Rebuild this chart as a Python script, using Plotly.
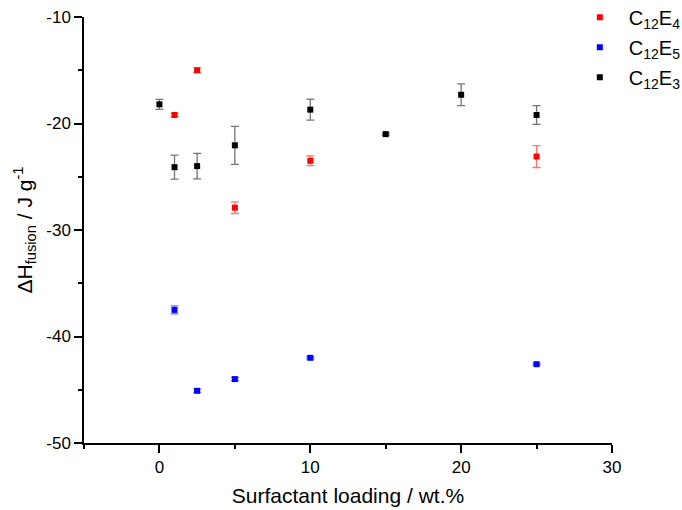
import plotly.graph_objects as go

# C12E4 (red)
x_e4 = [1, 2.5, 5, 10, 25]
y_e4 = [-19.2, -15.0, -27.9, -23.5, -23.1]
err_e4 = [0.15, 0.22, 0.55, 0.45, 1.03]

# C12E5 (blue)
x_e5 = [1, 2.5, 5, 10, 25]
y_e5 = [-37.5, -45.1, -44.0, -42.0, -42.6]
err_e5 = [0.38, 0.15, 0.15, 0.1, 0.1]

# C12E3 (black)
x_e3 = [0, 1, 2.5, 5, 10, 15, 20, 25]
y_e3 = [-18.2, -24.1, -24.0, -22.05, -18.7, -21.0, -17.3, -19.2]
err_e3 = [0.47, 1.13, 1.2, 1.78, 0.99, 0.1, 1.02, 0.88]

# tick labels
x_ticks = [0, 10, 20, 30]
x_ticklabels = ["0", "10", "20", "30"]
y_ticks = [-10, -20, -30, -40, -50]
y_ticklabels = ["-10", "-20", "-30", "-40", "-50"]

FONT = "Liberation Sans, Arial, sans-serif"

def trace(x, y, e, name, color, ecolor, grp):
    return go.Scatter(
        x=x, y=y, mode="markers", name=name, legendgroup=grp,
        marker=dict(symbol="square", size=6, color=color),
        error_y=dict(type="data", array=e, visible=True, color=ecolor,
                     thickness=1.3, width=4),
    )

fig = go.Figure()
fig.add_trace(trace(x_e4, y_e4, err_e4, "C<sub>12</sub>E<sub>4</sub>", "#ff0000", "rgba(255,0,0,0.55)", "e4"))
fig.add_trace(trace(x_e5, y_e5, err_e5, "C<sub>12</sub>E<sub>5</sub>", "#0000ff", "rgba(0,0,255,0.55)", "e5"))
fig.add_trace(trace(x_e3, y_e3, err_e3, "C<sub>12</sub>E<sub>3</sub>", "#000000", "rgba(0,0,0,0.55)", "e3"))

axis_common = dict(
    showline=True, linecolor="black", linewidth=1.5,
    ticks="outside", ticklen=8, tickwidth=1.5, tickcolor="black",
    showgrid=False, zeroline=False,
    tickfont=dict(family=FONT, size=17, color="black"),
    minor=dict(ticks="outside", ticklen=4, tickwidth=1.5, tickcolor="black", dtick=5, showgrid=False),
)

fig.update_layout(
    width=682, height=510,
    margin=dict(l=84, r=70, t=17, b=67, autoexpand=False),
    paper_bgcolor="white", plot_bgcolor="white",
    font=dict(family=FONT, color="black"),
    showlegend=True,
    legend=dict(x=0.922, y=1.045, xanchor="left", yanchor="top",
                itemwidth=48, tracegroupgap=1,
                font=dict(family=FONT, size=20, color="black"),
                bgcolor="rgba(0,0,0,0)"),
    xaxis=dict(range=[-5, 30], tickmode="array", tickvals=x_ticks, ticktext=x_ticklabels,
               title=dict(text="Surfactant loading / wt.%", font=dict(family=FONT, size=21), standoff=12),
               **axis_common),
    yaxis=dict(range=[-50, -10], tickmode="array", tickvals=y_ticks, ticktext=y_ticklabels,
               title=dict(text="ΔH<sub>fusion</sub> / J g<sup>-1</sup>", font=dict(family=FONT, size=21), standoff=8),
               **axis_common),
)

fig.write_html("out.html")
